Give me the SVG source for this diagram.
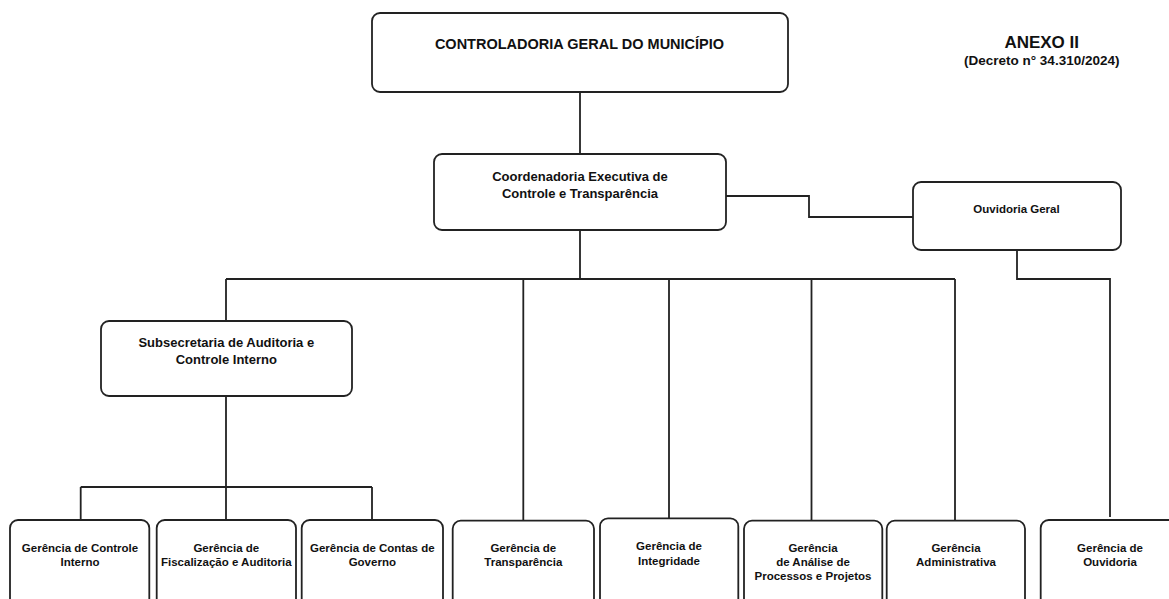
<svg xmlns="http://www.w3.org/2000/svg" width="1169" height="599" viewBox="0 0 1169 599">
<style>
.box{fill:#fff;stroke:#222;stroke-width:1.8}
.ln{fill:none;stroke:#222;stroke-width:1.8}
text{font-family:"Liberation Sans",Arial,sans-serif;font-weight:bold;fill:#111;text-anchor:middle}
.t14{font-size:14.5px}
.t13{font-size:13px}
.t11{font-size:11.5px}
</style>
<rect width="1169" height="599" fill="#fff"/>
<g id="connectors">
<path class="ln" d="M580,92V154"/>
<path class="ln" d="M580,230V279M226,279H955M226,279V321M523.3,279V520.7M669,279V518.3M811.5,279V520.7M955,279V520.7"/>
<path class="ln" d="M726,196H809V217H913"/>
<path class="ln" d="M1017,250V279H1110V517"/>
<path class="ln" d="M226,396V487M80.7,487H372M80.7,487V520M226,487V520M372,487V520"/>
</g>
<g id="title">
<text x="1041.7" y="47.8" style="font-size:17px">ANEXO II</text>
<text x="1041.7" y="65.3" style="font-size:13.5px">(Decreto n° 34.310/2024)</text>
</g>
<g id="controladoria">
<rect class="box" x="372" y="13" width="416" height="79" rx="8"/>
<text class="t14" x="579.5" y="48.5">CONTROLADORIA GERAL DO MUNICÍPIO</text>
</g>
<g id="coordenadoria">
<rect class="box" x="434" y="154" width="292" height="76" rx="8"/>
<text class="t13" x="580" y="180.6">Coordenadoria Executiva de</text>
<text class="t13" x="580" y="197.6">Controle e Transparência</text>
</g>
<g id="ouvidoria-geral">
<rect class="box" x="913" y="182" width="208" height="68" rx="8"/>
<text class="t11" x="1016.5" y="213">Ouvidoria Geral</text>
</g>
<g id="subsecretaria">
<rect class="box" x="101" y="321" width="251" height="75" rx="8"/>
<text class="t13" x="226.3" y="346.6">Subsecretaria de Auditoria e</text>
<text class="t13" x="226.3" y="363.6">Controle Interno</text>
</g>
<g id="ger-controle-interno">
<rect class="box" x="10" y="520" width="139.3" height="110" rx="8"/>
<text class="t11" x="80" y="551.8">Gerência de Controle</text>
<text class="t11" x="80" y="565.8">Interno</text>
</g>
<g id="ger-fiscalizacao">
<rect class="box" x="156.7" y="520" width="139.3" height="110" rx="8"/>
<text class="t11" x="226.3" y="551.8">Gerência de</text>
<text class="t11" x="226.3" y="565.8">Fiscalização e Auditoria</text>
</g>
<g id="ger-contas">
<rect class="box" x="301.7" y="520" width="141.3" height="110" rx="8"/>
<text class="t11" x="372.3" y="551.8">Gerência de Contas de</text>
<text class="t11" x="372.3" y="565.8">Governo</text>
</g>
<g id="ger-transparencia">
<rect class="box" x="452.7" y="520.7" width="141.3" height="110" rx="8"/>
<text class="t11" x="523.3" y="551.8">Gerência de</text>
<text class="t11" x="523.3" y="566.3">Transparência</text>
</g>
<g id="ger-integridade">
<rect class="box" x="600" y="518.3" width="138.3" height="110" rx="8"/>
<text class="t11" x="669" y="550">Gerência de</text>
<text class="t11" x="669" y="564.7">Integridade</text>
</g>
<g id="ger-analise">
<rect class="box" x="744" y="520.7" width="138.3" height="110" rx="8"/>
<text class="t11" x="813" y="551.7">Gerência</text>
<text class="t11" x="813" y="566.3">de Análise de</text>
<text class="t11" x="813" y="579.7">Processos e Projetos</text>
</g>
<g id="ger-administrativa">
<rect class="box" x="886.7" y="520.7" width="138.3" height="110" rx="8"/>
<text class="t11" x="956" y="551.7">Gerência</text>
<text class="t11" x="956" y="566">Administrativa</text>
</g>
<g id="ger-ouvidoria">
<rect class="box" x="1040.7" y="520" width="140" height="110" rx="8"/>
<text class="t11" x="1110" y="552.3">Gerência de</text>
<text class="t11" x="1110" y="565.7">Ouvidoria</text>
</g>
</svg>
